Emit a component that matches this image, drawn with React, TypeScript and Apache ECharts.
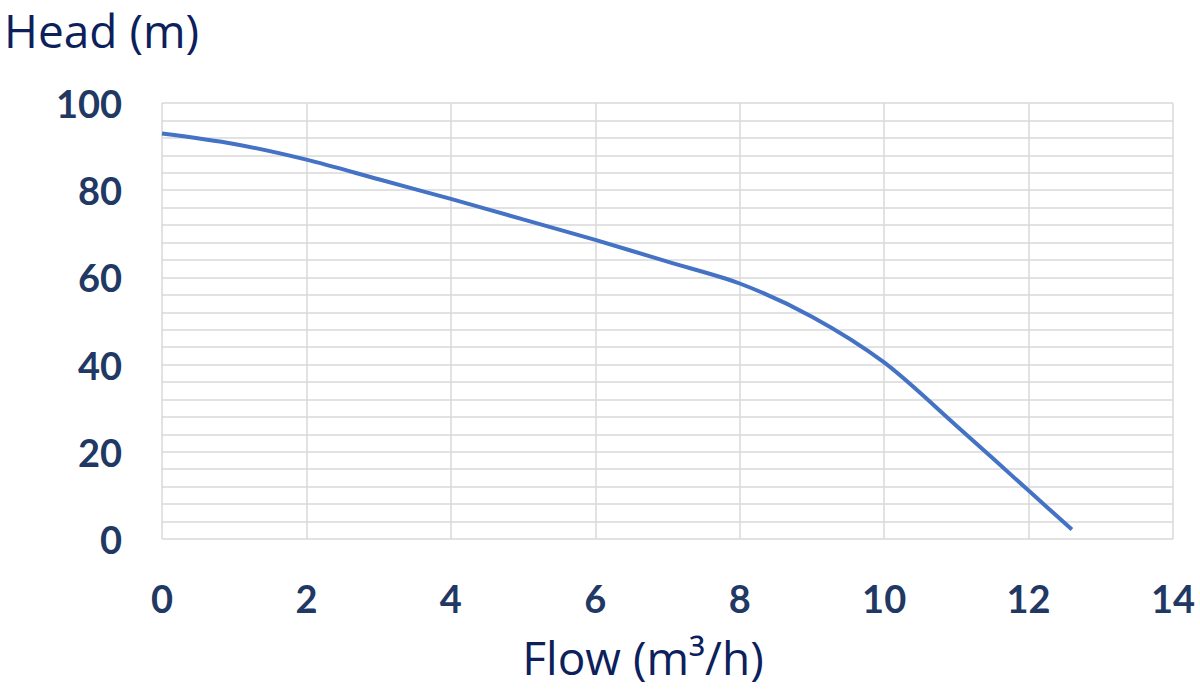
import React, { useEffect, useRef } from "react";
import * as echarts from "echarts";

const flow = [0, 1, 2, 3, 4, 5, 6, 7, 8, 9, 10, 11, 12, 12.6];
const head = [93, 90.6, 87, 82.5, 78, 73.3, 68.6, 63.6, 58.6, 51, 40.5, 26, 11.1, 2.2];
const yTitle = "Head (m)";
const xTitle = "Flow (m³/h)";

export default function App() {
  const ref = useRef<HTMLDivElement>(null);
  useEffect(() => {
    const chart = echarts.init(ref.current!, null, { renderer: "svg" });
    const navy = "#1F3864";
    const grid = "#D9D9D9";
    chart.setOption({
      animation: false,
      backgroundColor: "#ffffff",
      grid: { left: 162, right: 27, top: 103, bottom: 155 },
      xAxis: {
        type: "value",
        min: 0,
        max: 14,
        interval: 2,
        axisLine: { show: false },
        axisTick: { show: false },
        axisLabel: {
          margin: 40,
          color: navy,
          fontFamily: "Lato",
          fontWeight: "bold",
          fontSize: 38,
        },
        splitLine: { show: true, lineStyle: { color: grid, width: 1.5 } },
      },
      yAxis: {
        type: "value",
        min: 0,
        max: 100,
        interval: 20,
        axisLine: { show: false },
        axisTick: { show: false },
        axisLabel: {
          margin: 40,
          color: navy,
          fontFamily: "Lato",
          fontWeight: "bold",
          fontSize: 38,
        },
        splitLine: { show: true, lineStyle: { color: grid, width: 1.5 } },
        minorTick: { show: false, splitNumber: 5 },
        minorSplitLine: { show: true, lineStyle: { color: grid, width: 1.5 } },
      },
      series: [
        {
          type: "line",
          data: flow.map((f, i) => [f, head[i]]),
          smooth: 0.3,
          showSymbol: false,
          lineStyle: { color: "#4472C4", width: 4 },
        },
      ],
      graphic: [
        {
          type: "text",
          x: 4,
          y: 30,
          style: {
            text: yTitle,
            fill: "#0D1F5C",
            font: "46px 'Open Sans'",
            textVerticalAlign: "middle",
          },
        },
        {
          type: "text",
          x: 643,
          y: 657,
          style: {
            text: xTitle,
            fill: "#0D1F5C",
            font: "46px 'Open Sans'",
            textAlign: "center",
            textVerticalAlign: "middle",
          },
        },
      ],
    });
    return () => chart.dispose();
  }, []);
  return (
    <div
      ref={ref}
      style={{ position: "fixed", left: 0, top: 0, width: 1200, height: 694 }}
    />
  );
}
